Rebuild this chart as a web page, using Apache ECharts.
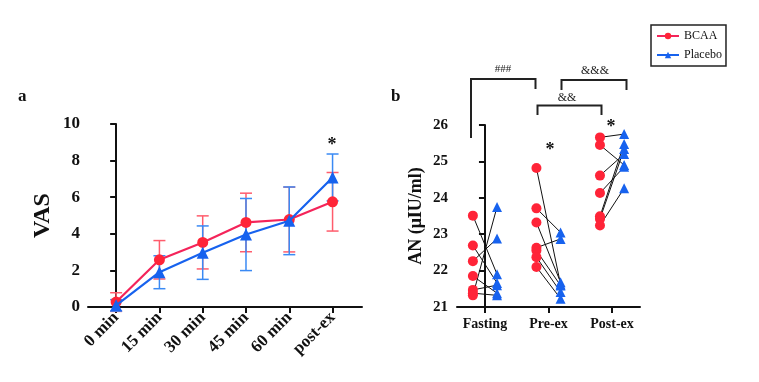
<!DOCTYPE html>
<html><head><meta charset="utf-8">
<script src="https://cdn.jsdelivr.net/npm/echarts@6/dist/echarts.min.js"></script>
<style>html,body{margin:0;padding:0;background:#fff}#c{width:759px;height:382px}</style>
</head><body><div id="c"></div>
<script>
// ---- Panel a data ----
var timeLabels = ['0 min', '15 min', '30 min', '45 min', '60 min', 'post-ex'];
var vasBcaaMean = [0.27, 2.58, 3.53, 4.62, 4.78, 5.75];
var vasBcaaSd   = [0.51, 1.05, 1.45, 1.60, 1.77, 1.60];
var vasPlaceboMean = [0.09, 1.90, 2.97, 3.96, 4.71, 7.08];
var vasPlaceboSd   = [0.31, 0.90, 1.46, 1.97, 1.85, 1.28];
var vasTicks = [0, 2, 4, 6, 8, 10];

// ---- Panel b data (paired subjects) ----
var phaseLabels = ['Fasting', 'Pre-ex', 'Post-ex'];
var fastingBcaa    = [23.51, 22.69, 22.26, 21.85, 21.47, 21.38, 21.32];
var fastingPlacebo = [21.90, 21.66, 22.88, 21.38, 21.60, 21.32, 23.75];
var preBcaa        = [24.82, 23.71, 23.32, 22.63, 22.55, 22.37, 22.10];
var prePlacebo     = [21.62, 23.05, 21.68, 22.87, 21.59, 21.41, 21.23];
var postBcaa       = [25.66, 25.45, 24.61, 24.13, 23.49, 23.42, 23.24];
var postPlacebo    = [25.75, 24.90, 25.20, 24.85, 25.48, 25.34, 24.26];
var anTicks = [21, 22, 23, 24, 25, 26];

var RED = '#ff2438', REDLINE = '#f4245a', REDBAR = '#ff5c6c';
var BLUE = '#1762ee', BLUEBAR = '#3a8af4';
var FONT = 'Liberation Serif';
var OFF = 0.19;

var groupsB = [fastingBcaa, preBcaa, postBcaa];
var groupsP = [fastingPlacebo, prePlacebo, postPlacebo];
var scatB = [], scatP = [], pairs = [];
groupsB.forEach(function (arr, i) {
  arr.forEach(function (v, k) {
    scatB.push([i - OFF, v]);
    scatP.push([i + OFF, groupsP[i][k]]);
    pairs.push([i, v, groupsP[i][k]]);
  });
});

function errData(mean, sd) {
  return mean.map(function (m, i) { return [i, m - sd[i], m + sd[i]]; });
}
function errRender(color) {
  return function (params, api) {
    var x = api.value(0);
    var lo = api.coord([x, api.value(1)]);
    var hi = api.coord([x, api.value(2)]);
    var w = 6;
    var st = { stroke: color, lineWidth: 1.5 };
    return { type: 'group', children: [
      { type: 'line', shape: { x1: lo[0], y1: lo[1], x2: hi[0], y2: hi[1] }, style: st },
      { type: 'line', shape: { x1: lo[0] - w, y1: lo[1], x2: lo[0] + w, y2: lo[1] }, style: st },
      { type: 'line', shape: { x1: hi[0] - w, y1: hi[1], x2: hi[0] + w, y2: hi[1] }, style: st }
    ]};
  };
}

var axisLineStyle = { lineStyle: { color: '#111', width: 2 } };
var tickStyle = { show: true, length: 6, lineStyle: { color: '#111', width: 2 } };

var chart = echarts.init(document.getElementById('c'), null, { renderer: 'canvas' });
var option = {
  animation: false,
  backgroundColor: '#fff',
  textStyle: { fontFamily: FONT },
  legend: {
    left: 651, top: 25, orient: 'vertical',
    borderColor: '#222', borderWidth: 1.5, padding: [5, 4, 5, 5],
    itemGap: 7, itemWidth: 22, itemHeight: 8,
    textStyle: { fontFamily: FONT, fontSize: 12, color: '#111' },
    data: ['BCAA', 'Placebo']
  },
  grid: [
    { left: 88, top: 124, width: 274, height: 183 },
    { left: 457, top: 125, width: 183, height: 182 }
  ],
  xAxis: [
    {
      gridIndex: 0, type: 'value', min: -0.65, max: 5.68,
      axisLine: axisLineStyle, splitLine: { show: false },
      axisTick: Object.assign({ customValues: [0, 1, 2, 3, 4, 5] }, tickStyle),
      axisLabel: {
        customValues: [0, 1, 2, 3, 4, 5], rotate: 45, margin: 8,
        fontFamily: FONT, fontWeight: 'bold', fontSize: 17, color: '#111',
        formatter: function (v) { return timeLabels[Math.round(v)]; }
      }
    },
    {
      gridIndex: 1, type: 'value', min: -0.44, max: 2.44,
      axisLine: axisLineStyle, splitLine: { show: false },
      axisTick: Object.assign({ customValues: [0, 1, 2] }, tickStyle),
      axisLabel: {
        customValues: [0, 1, 2], margin: 10,
        fontFamily: FONT, fontWeight: 'bold', fontSize: 14, color: '#111',
        formatter: function (v) { return phaseLabels[Math.round(v)]; }
      }
    }
  ],
  yAxis: [
    {
      gridIndex: 0, type: 'value', min: vasTicks[0], max: vasTicks[vasTicks.length - 1], interval: 2,
      axisLine: Object.assign({ show: true }, axisLineStyle), axisTick: tickStyle,
      splitLine: { show: false },
      axisLabel: { fontFamily: FONT, fontWeight: 'bold', fontSize: 17, color: '#111', margin: 8 },
      name: 'VAS', nameLocation: 'middle', nameGap: 33,
      nameTextStyle: { fontFamily: FONT, fontWeight: 'bold', fontSize: 24, color: '#111' }
    },
    {
      gridIndex: 1, type: 'value', min: anTicks[0], max: anTicks[anTicks.length - 1], interval: 1,
      axisLine: Object.assign({ show: true }, axisLineStyle), axisTick: tickStyle,
      splitLine: { show: false },
      axisLabel: { fontFamily: FONT, fontWeight: 'bold', fontSize: 15, color: '#111', margin: 9 },
      name: 'AN (μIU/ml)', nameLocation: 'middle', nameGap: 32,
      nameTextStyle: { fontFamily: FONT, fontWeight: 'bold', fontSize: 18, color: '#111' }
    }
  ],
  series: [
    { type: 'custom', xAxisIndex: 0, yAxisIndex: 0, renderItem: errRender(REDBAR),
      data: errData(vasBcaaMean, vasBcaaSd), z: 1, silent: true },
    { type: 'custom', xAxisIndex: 0, yAxisIndex: 0, renderItem: errRender(BLUEBAR),
      data: errData(vasPlaceboMean, vasPlaceboSd), z: 1, silent: true },
    { name: 'BCAA', type: 'line', xAxisIndex: 0, yAxisIndex: 0,
      data: vasBcaaMean.map(function (v, i) { return [i, v]; }),
      symbol: 'circle', symbolSize: 11, itemStyle: { color: RED },
      lineStyle: { color: REDLINE, width: 2.2 }, z: 3 },
    { name: 'Placebo', type: 'line', xAxisIndex: 0, yAxisIndex: 0,
      data: vasPlaceboMean.map(function (v, i) { return [i, v]; }),
      symbol: 'triangle', symbolSize: 12, itemStyle: { color: BLUE },
      lineStyle: { color: BLUE, width: 2.2 }, z: 4 },
    { type: 'custom', xAxisIndex: 1, yAxisIndex: 1, silent: true, z: 2,
      data: pairs,
      renderItem: function (params, api) {
        var i = api.value(0);
        var a = api.coord([i - OFF, api.value(1)]);
        var b = api.coord([i + OFF, api.value(2)]);
        return { type: 'line', shape: { x1: a[0], y1: a[1], x2: b[0], y2: b[1] },
          style: { stroke: '#111', lineWidth: 1 } };
      } },
    { name: 'BCAA', type: 'scatter', xAxisIndex: 1, yAxisIndex: 1, data: scatB,
      symbol: 'circle', symbolSize: 10, itemStyle: { color: RED, opacity: 1 }, z: 3 },
    { name: 'Placebo', type: 'scatter', xAxisIndex: 1, yAxisIndex: 1, data: scatP,
      symbol: 'triangle', symbolSize: 10, itemStyle: { color: BLUE, opacity: 1 }, z: 3 }
  ],
  graphic: [
    { type: 'text', left: 18, top: 88, style: { text: 'a', font: 'bold 17px "Liberation Serif"', fill: '#111' } },
    { type: 'text', left: 391, top: 88, style: { text: 'b', font: 'bold 17px "Liberation Serif"', fill: '#111' } },
    { type: 'text', x: 332, y: 145, style: { text: '*', font: 'bold 18px "Liberation Serif"', fill: '#111', align: 'center', verticalAlign: 'middle' } },
    { type: 'text', x: 550, y: 150, style: { text: '*', font: 'bold 18px "Liberation Serif"', fill: '#111', align: 'center', verticalAlign: 'middle' } },
    { type: 'text', x: 611, y: 127, style: { text: '*', font: 'bold 18px "Liberation Serif"', fill: '#111', align: 'center', verticalAlign: 'middle' } },
    { type: 'polyline', shape: { points: [[471, 138], [471, 79], [535.5, 79], [535.5, 89]] }, style: { stroke: '#222', lineWidth: 2, fill: null } },
    { type: 'polyline', shape: { points: [[561.5, 90], [561.5, 80], [626.5, 80], [626.5, 90]] }, style: { stroke: '#222', lineWidth: 2, fill: null } },
    { type: 'polyline', shape: { points: [[537.5, 115], [537.5, 105.5], [601.5, 105.5], [601.5, 115]] }, style: { stroke: '#222', lineWidth: 2, fill: null } },
    { type: 'text', x: 503, y: 69, style: { text: '###', font: '11px "Liberation Serif"', fill: '#222', align: 'center', verticalAlign: 'middle' } },
    { type: 'text', x: 595, y: 71, style: { text: '&&&', font: '12px "Liberation Serif"', fill: '#222', align: 'center', verticalAlign: 'middle' } },
    { type: 'text', x: 567, y: 98, style: { text: '&&', font: '12px "Liberation Serif"', fill: '#222', align: 'center', verticalAlign: 'middle' } }
  ]
};
chart.setOption(option);
</script></body></html>
